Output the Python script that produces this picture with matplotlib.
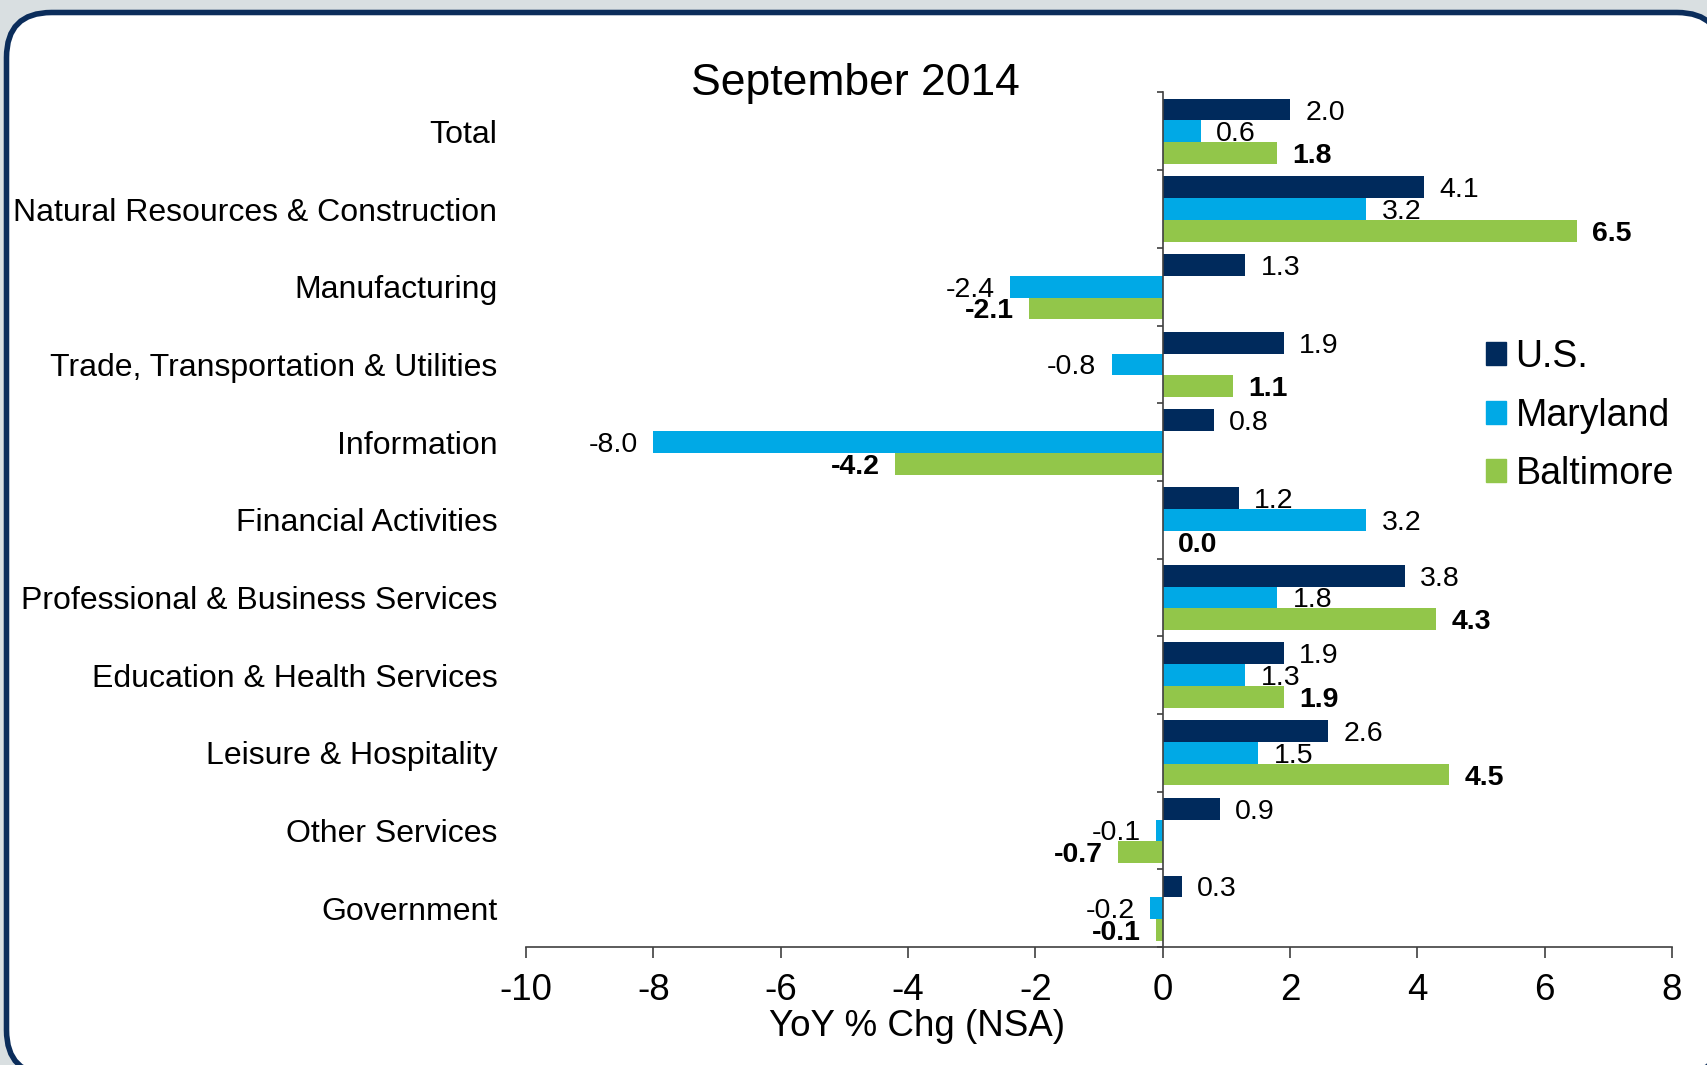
import matplotlib.pyplot as plt
import matplotlib.transforms as mtransforms
from matplotlib.patches import FancyBboxPatch, Patch
import numpy as np

plt.rcParams['font.family'] = ['Liberation Sans', 'DejaVu Sans']

# data
categories = ['Total', 'Natural Resources & Construction', 'Manufacturing',
              'Trade, Transportation & Utilities', 'Information', 'Financial Activities',
              'Professional & Business Services', 'Education & Health Services',
              'Leisure & Hospitality', 'Other Services', 'Government']
us = [2.0, 4.1, 1.3, 1.9, 0.8, 1.2, 3.8, 1.9, 2.6, 0.9, 0.3]
maryland = [0.6, 3.2, -2.4, -0.8, -8.0, 3.2, 1.8, 1.3, 1.5, -0.1, -0.2]
baltimore = [1.8, 6.5, -2.1, 1.1, -4.2, 0.0, 4.3, 1.9, 4.5, -0.7, -0.1]
series_names = ['U.S.', 'Maryland', 'Baltimore']
xticks = [-10, -8, -6, -4, -2, 0, 2, 4, 6, 8]

navy = '#002A5C'
cyan = '#00A9E6'
green = '#92C64A'

W, H = 1707, 1065
fig = plt.figure(figsize=(W / 100, H / 100), dpi=100, facecolor='#D9DFE1')

# rounded frame in pixel units
bg = fig.add_axes([0, 0, 1, 1], zorder=0)
bg.set_xlim(0, W)
bg.set_ylim(H, 0)
bg.axis('off')
box = FancyBboxPatch((6.5 + 45, 12.5 + 45), 1722 - 6.5 - 90, 1075 - 12.5 - 90,
                     boxstyle='round,pad=45', facecolor='white', edgecolor='#0B2D5B',
                     linewidth=4)
bg.add_patch(box)

ax = fig.add_axes([526 / W, 1 - 947 / H, (1672 - 526) / W, (947 - 92.5) / H], zorder=1)
ax.patch.set_alpha(0)

y = np.arange(len(categories))
h = 0.28
series = [us, maryland, baltimore]
colors = [navy, cyan, green]
weights = ['normal', 'normal', 'bold']
for k, (vals, c, wt) in enumerate(zip(series, colors, weights)):
    yy = y + (k - 1) * h
    ax.barh(yy, vals, height=h, color=c, label=series_names[k])
    # value labels just outside the bar end
    for yi, v in zip(yy, vals):
        ax.annotate(f'{v:.1f}', (v, yi), xytext=(11 if v >= 0 else -11, 0),
                    textcoords='offset points', ha='left' if v >= 0 else 'right',
                    va='center_baseline', fontsize=20.5, fontweight=wt)

ax.set_xlim(-10, 8)
ax.set_ylim(len(categories) - 0.5, -0.5)
ax.set_xticks(xticks)
ax.set_xticklabels([str(t) for t in xticks], fontsize=26.5)
ax.tick_params(axis='x', length=8, width=1.2, color='#404040', pad=11)

# y axis sits at zero, ticks at category boundaries
ax.spines['left'].set_position(('data', 0))
ax.set_yticks(np.arange(len(categories) + 1) - 0.5)
ax.set_yticklabels([])
ax.tick_params(axis='y', length=4, width=1.2, color='#404040')
for s in ['top', 'right']:
    ax.spines[s].set_visible(False)
for s in ['left', 'bottom']:
    ax.spines[s].set_color('#404040')
    ax.spines[s].set_linewidth(1.2)

trans = mtransforms.blended_transform_factory(ax.transAxes, ax.transData)
for yi, name in zip(y, categories):
    ax.text(-0.025, yi, name, transform=trans, ha='right', va='center_baseline', fontsize=23)

handles = [Patch(color=c) for c in colors]
ax.legend(handles, series_names, loc='center left', bbox_to_anchor=(0.821, 0.622),
          frameon=False, fontsize=27, handlelength=0.55, handleheight=0.55,
          handletextpad=0.25, labelspacing=0.6, borderpad=0)

fig.text(855 / W, 1 - 83 / H, 'September 2014', ha='center', va='center', fontsize=32)
fig.text(917 / W, 1 - 1026 / H, 'YoY % Chg (NSA)', ha='center', va='center', fontsize=26.5)

fig.savefig('out.png', dpi=100, facecolor=fig.get_facecolor())
